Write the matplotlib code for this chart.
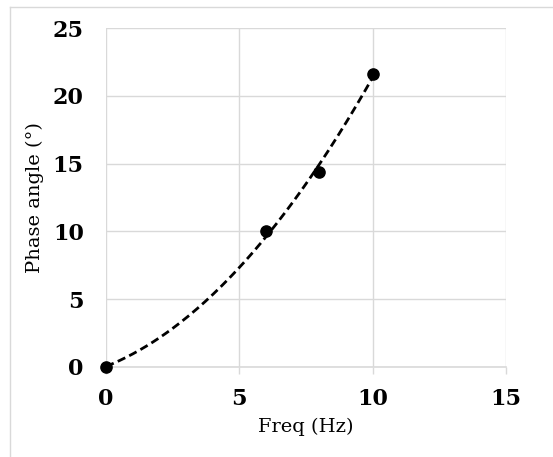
import matplotlib
matplotlib.use("Agg")
import matplotlib.pyplot as plt
import numpy as np
from matplotlib.lines import Line2D

freq = [0, 6, 8, 10]
phase = [0, 10, 14.35, 21.6]
x_ticks = [0, 5, 10, 15]
y_ticks = [0, 5, 10, 15, 20, 25]

fig = plt.figure(figsize=(5.53, 4.57), dpi=100)
ax = fig.add_axes([0.1917, 0.197, 0.7233, 0.7417])

# chart area border (only left and top edges fall inside the picture)
grey = "#d9d9d9"
fig.add_artist(Line2D([9.5 / 553, 9.5 / 553], [0, 1 - 7 / 457], color=grey, lw=1))
fig.add_artist(Line2D([9.5 / 553, 1], [1 - 7 / 457, 1 - 7 / 457], color=grey, lw=1))

# polynomial trendline, order 2
coef = np.polyfit(freq, phase, 2)
xs = np.linspace(min(freq), max(freq), 200)
ax.plot(xs, np.polyval(coef, xs), color="black", lw=2, ls=(0, (3, 1.6)), zorder=3)
ax.scatter(freq, phase, s=65, color="black", zorder=4, clip_on=False)

ax.set_xlim(0, 15)
ax.set_ylim(0, 25)
ax.set_xticks(x_ticks)
ax.set_yticks(y_ticks)
ax.grid(True, color=grey, lw=1)
ax.set_axisbelow(True)
for side in ["top", "right", "left"]:
    ax.spines[side].set_visible(False)
ax.spines["bottom"].set_color(grey)
ax.spines["bottom"].set_linewidth(1.2)
ax.tick_params(axis="x", length=5, color=grey, width=1, pad=10)
ax.tick_params(axis="y", length=0, pad=16)

for lab in ax.get_xticklabels() + ax.get_yticklabels():
    lab.set_fontfamily("DejaVu Serif")
    lab.set_fontweight("heavy")
    lab.set_fontsize(16)

ax.set_xlabel("Freq (Hz)", fontfamily="DejaVu Serif", fontsize=14, labelpad=6)
ax.set_ylabel("Phase angle (°)", fontfamily="DejaVu Serif", fontsize=14, labelpad=6)

fig.savefig("out.png", dpi=100)
